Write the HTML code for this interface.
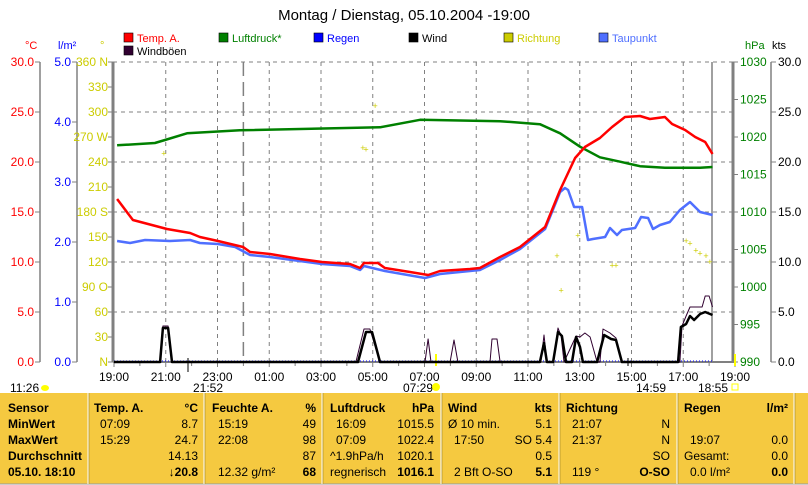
<!DOCTYPE html>
<html><head><meta charset="utf-8"><style>
body{margin:0;background:#fff;}
svg{display:block;font-family:"Liberation Sans",sans-serif;}
</style></head><body>
<svg id="c" width="808" height="485" viewBox="0 0 808 485">
<text x="404" y="20" font-size="15" text-anchor="middle">Montag / Dienstag, 05.10.2004 -19:00</text>
<g id="legend" font-size="11"></g>
<g id="axes"></g>
<g id="grid"></g>
<g id="marks"></g>
<g id="table"></g>
</svg>
<script>
// ---- data (hours since 19:00) ----
const tempT=[0.12,0.73,2.05,2.94,3.32,4.02,4.99,5.26,6.03,7.19,8.04,9.12,9.51,9.66,10.2,10.47,11.44,12.14,12.6,13.76,14.14,14.92,15.69,16.66,17.24,17.82,18.2,18.78,19.25,19.75,20.33,20.71,21.29,21.57,22.07,22.46,22.85,23.13];
const tempV=[16.3,14.2,13.3,12.9,12.5,12.1,11.5,11.0,10.8,10.3,10.0,9.8,9.4,9.9,9.9,9.4,9.0,8.7,9.1,9.3,9.4,10.5,11.5,13.5,17.2,20.4,21.5,22.4,23.5,24.5,24.6,24.3,24.5,23.8,23.2,22.5,22.0,20.8];
const dewT=[0.12,0.62,1.2,2.16,2.94,3.32,4.02,4.68,5.26,6.03,8.04,9.12,9.51,9.66,10.47,12.02,12.6,14.14,14.92,15.69,16.66,17.24,17.43,17.55,17.78,18.09,18.32,18.51,18.98,19.17,19.44,19.63,20.14,20.37,20.64,20.83,21.1,21.48,21.87,22.26,22.65,23.13];
const dewV=[12.1,11.9,12.2,12.1,12.2,11.9,11.8,11.5,10.7,10.5,9.8,9.6,9.2,9.6,9.1,8.4,8.8,9.2,10.2,11.3,13.3,17.0,17.4,17.2,15.5,15.5,12.2,12.3,12.5,13.4,12.7,13.2,13.4,14.5,14.4,13.3,13.7,14.0,15.2,16.0,15.0,14.7];
const presT=[0.12,1.58,1.97,2.82,4.87,10.28,11.83,14.92,16.46,17.24,18.01,18.78,19.56,20.33,21.29,22.65,23.13];
const presV=[1018.9,1019.2,1019.6,1020.5,1020.9,1021.3,1022.3,1022.1,1021.7,1020.5,1018.7,1017.3,1016.7,1016.1,1015.9,1015.9,1016.0];
const windT=[0,1.78,1.89,2.09,2.24,9.43,9.74,9.97,10.28,16.46,16.62,16.73,16.97,17.16,17.31,17.47,17.70,17.86,18.01,18.12,18.67,18.94,19.21,19.40,19.63,21.80,21.91,22.11,22.26,22.42,22.65,22.85,23.13];
const windV=[0,0,3.4,3.4,0,0,3.0,3.0,0,0,1.9,0,0,3.0,2.6,0,0,2.5,1.5,0,0,2.7,2.3,2.2,0,0,3.5,3.8,4.6,4.2,4.8,5.0,4.7];
const gustT=[0,1.78,1.89,2.09,2.24,9.35,9.66,9.89,10.28,12.02,12.14,12.25,12.99,13.14,13.29,14.53,14.61,14.80,14.92,16.50,16.62,16.73,16.97,17.16,17.28,17.39,17.86,18.01,18.20,18.40,18.67,18.78,18.90,19.17,19.40,19.63,21.87,21.95,22.11,22.26,22.73,22.85,23.0,23.13];
const gustV=[0,0,3.6,3.6,0,0,3.3,3.3,0,0,2.3,0,0,2.2,0,0,2.3,2.3,0,0,2.7,0,0,3.4,2.6,0,2.6,2.5,2.9,2.5,0,0,3.3,2.9,2.4,0,0,3.6,4.6,5.5,5.5,6.6,6.6,5.5];
const dirT=[1.93,9.62,9.74,10.09,17.12,17.28,17.93,19.25,19.4,22.11,22.26,22.49,22.65,22.88,23.03];
const dirV=[250,257,255,307,127,86,152,116,116,145,142,134,130,127,120];
const xLabels=["19:00","21:00","23:00","01:00","03:00","05:00","07:00","09:00","11:00","13:00","15:00","17:00","19:00"];
const tempTicks=[0,5,10,15,20,25,30];
const rainTicks=[0,1,2,3,4,5];
const dirTicks=["N","30","60","90 O","120","150","180 S","210","240","270 W","300","330","360 N"];
const presTicks=[990,995,1000,1005,1010,1015,1020,1025,1030];

// ---- scales ----
const X0=114,PX=25.875,Y0=362,H=300;
const xs=t=>X0+t*PX;
const yT=v=>Y0-v*H/30;
const yR=v=>Y0-v*H/5;
const yD=v=>Y0-v*H/360;
const yP=v=>Y0-(v-990)*H/40;
const NS='http://www.w3.org/2000/svg';
function mk(tag,attrs,parent,txt){const e=document.createElementNS(NS,tag);for(const k in attrs)e.setAttribute(k,attrs[k]);if(txt!==undefined)e.textContent=txt;parent.appendChild(e);return e;}
const ax=document.getElementById('axes'),gr=document.getElementById('grid'),mg=document.getElementById('marks'),lg=document.getElementById('legend'),tb=document.getElementById('table');

// grid
tempTicks.forEach(v=>{if(v>0){const l=mk('line',{x1:113,x2:733,y1:yT(v),y2:yT(v),stroke:'#808080','stroke-dasharray':'4,4'},gr);

}});
for(let h=2;h<24;h+=2){const l=mk('line',{x1:xs(h),x2:xs(h),y1:62,y2:362,stroke:'#808080','stroke-dasharray':'4,4'},gr);

}
const mid=mk('line',{x1:xs(5),x2:xs(5),y1:62,y2:362,stroke:'#808080','stroke-dasharray':'14,6','stroke-width':1.5},gr);


const endl=mk('line',{x1:712,x2:712,y1:62,y2:362,stroke:'#808080','stroke-width':1.5},gr);



// axes lines
[[40,'#808080'],[77,'#808080'],[113,'#808080'],[733,'#808080'],[771,'#808080']].forEach(([x,c],i)=>{const l=mk('line',{x1:x,x2:x,y1:62,y2:362,stroke:c,'stroke-width':(i==2||i==3)?3:1.5},ax);

});
const bx=mk('line',{x1:113,x2:735,y1:362,y2:362,stroke:'#808080','stroke-width':2},ax);


tempTicks.forEach(v=>{mk('line',{x1:35,x2:40,y1:yT(v),y2:yT(v),stroke:'#808080'},ax);
const t=mk('text',{x:34,y:yT(v)+4,'font-size':12,fill:'#f00','text-anchor':'end'},ax,v.toFixed(1));


mk('line',{x1:771,x2:776,y1:yT(v),y2:yT(v),stroke:'#808080'},ax);
const k=mk('text',{x:778,y:yT(v)+4,'font-size':12,fill:'#000'},ax,v.toFixed(1));

});
rainTicks.forEach(v=>{mk('line',{x1:72,x2:77,y1:yR(v),y2:yR(v),stroke:'#808080'},ax);
const t=mk('text',{x:71,y:yR(v)+4,'font-size':12,fill:'#00f','text-anchor':'end'},ax,v.toFixed(1));

});
dirTicks.forEach((s,i)=>{const v=i*30;mk('line',{x1:108,x2:113,y1:yD(v),y2:yD(v),stroke:'#808080'},ax);
const t=mk('text',{x:108,y:yD(v)+4,'font-size':12,fill:'#cccc00','text-anchor':'end'},ax,s);

});
presTicks.forEach(v=>{mk('line',{x1:733,x2:738,y1:yP(v),y2:yP(v),stroke:'#808080'},ax);
const t=mk('text',{x:740,y:yP(v)+4,'font-size':12,fill:'#008000'},ax,String(v));

});
xLabels.forEach((s,i)=>{const x=xs(i*2);mk('line',{x1:x,x2:x,y1:362,y2:367,stroke:'#808080'},ax);
const t=mk('text',{x:x,y:381,'font-size':12,'text-anchor':'middle'},ax,s);

});
for(let h=1;h<24;h+=2){mk('line',{x1:xs(h),x2:xs(h),y1:362,y2:366,stroke:'#808080'},ax);}
[['°C',25,'#f00'],['l/m²',58,'#00f'],['°',100,'#cccc00'],['hPa',745,'#008000'],['kts',772,'#000']].forEach(([s,x,c])=>{const t=mk('text',{x:x,y:49,'font-size':11,fill:c},ax,s);

});

// legend
[['Temp. A.','#f00',124,42],['Luftdruck*','#008000',219,42],['Regen','#00f',314,42],['Wind','#000',409,42],['Richtung','#cccc00',504,42],['Taupunkt','#4f6fff',599,42],['Windböen','#300030',124,55]].forEach(([s,c,x,y])=>{
const g=mk('g',{},lg);


mk('rect',{x:x,y:y-9,width:9,height:9,fill:c,stroke:'#000','stroke-width':0.6},g);
mk('text',{x:x+13,y:y,'font-size':11,fill:c==='#300030'?'#000':c},g,s);});

// series
function line(T,V,ys,c,w,name){const pts=T.map((t,i)=>xs(t).toFixed(1)+','+ys(V[i]).toFixed(1)).join(' ');
const p=mk('polyline',{points:pts,fill:'none',stroke:c,'stroke-width':w,'stroke-linejoin':'round'},mg);

}
const rain=mk('line',{x1:xs(0),x2:712,y1:361,y2:361,stroke:'#00f','stroke-dasharray':'1,2'},mg);


line(presT,presV,yP,'#008000',2.5,'pressure-line');
line(gustT,gustV,yT,'#300030',1,'gust-line');
line(windT,windV,yT,'#000',2.5,'wind-line');
line(dewT,dewV,yT,'#4f6fff',2.5,'dewpoint-line');
line(tempT,tempV,yT,'#f00',2.5,'temperature-line');
dirT.forEach((t,i)=>{const d=mk('text',{x:xs(t),y:yD(dirV[i])+3,'font-size':9,fill:'#cccc00','text-anchor':'middle'},mg,'+');

});

// sun/moon markers
[['11:26',10,'start'],['21:52',193,'start'],['07:29',403,'start'],['14:59',636,'start'],['18:55',698,'start']].forEach(([s,x,a])=>{const t=mk('text',{x:x,y:392,'font-size':12,'text-anchor':a},ax,s);

});
mk('ellipse',{cx:45,cy:388,rx:4,ry:3,fill:'#ff0'},ax);
mk('circle',{cx:436,cy:387,r:4,fill:'#ff0'},ax);
mk('rect',{x:732,y:384,width:6,height:6,fill:'none',stroke:'#ff0'},ax);
mk('line',{x1:436,x2:436,y1:354,y2:366,stroke:'#ff0','stroke-width':2},ax);
mk('line',{x1:735,x2:735,y1:354,y2:366,stroke:'#ff0','stroke-width':2},ax);
mk('line',{x1:188,x2:188,y1:358,y2:372,stroke:'#808080','stroke-width':2},ax);
mk('line',{x1:628,x2:628,y1:358,y2:366,stroke:'#808080','stroke-width':2},ax);

// table
const tbg=mk('rect',{x:0,y:393,width:808,height:91,fill:'#f5c940'},tb);


mk('line',{x1:0,x2:808,y1:484,y2:484,stroke:'#999'},tb);
[88,204,322,441,559,677,794].forEach(x=>{mk('line',{x1:x,x2:x,y1:393,y2:484,stroke:'#fff','stroke-width':1},tb);mk('line',{x1:x+1,x2:x+1,y1:393,y2:484,stroke:'#c0a030','stroke-width':1},tb);});
const rowsY=[412,428,444,460,476];
const cols=[
 {l:8,r:null,cells:[['Sensor',1],['MinWert',1],['MaxWert',1],['Durchschnitt',1],['05.10. 18:10',1]]},
];
function tx(x,y,s,b,anchor,name){const t=mk('text',{x:x,y:y,'font-size':12,'font-weight':b?'bold':'normal','text-anchor':anchor},tb,s);

}
['Sensor','MinWert','MaxWert','Durchschnitt','05.10. 18:10'].forEach((s,i)=>tx(8,rowsY[i],s,true,'start','row-header'));
const tcols=[
 [94,198,[['Temp. A.','°C',1],['  07:09','8.7'],['  15:29','24.7'],['','14.13'],['','↓20.8',1]]],
 [212,316,[['Feuchte A.','%',1],['  15:19','49'],['  22:08','98'],['','87'],['  12.32 g/m²','68',1]]],
 [330,434,[['Luftdruck','hPa',1],['  16:09','1015.5'],['  07:09','1022.4'],['^1.9hPa/h','1020.1'],['regnerisch','1016.1',1]]],
 [448,552,[['Wind','kts',1],['Ø 10 min.','5.1'],['   17:50','SO 5.4'],['','0.5'],['   2 Bft O-SO','5.1',1]]],
 [566,670,[['Richtung','',1],['  21:07','N'],['  21:37','N'],['','SO'],['  119 °','O-SO',1]]],
 [684,788,[['Regen','l/m²',1],['',''],['   19:07','0.0'],['Gesamt:','0.0'],['  0.0 l/m²','0.0',1]]]
];
tcols.forEach(([l,r,rows])=>rows.forEach(([a,b,bold],i)=>{
 if(a){const t=mk('text',{x:l+(a.startsWith(' ')?6:0),y:rowsY[i],'font-size':12,'font-weight':(i==0)?'bold':'normal'},tb,a.trim());
 
 }
 if(b){const t=mk('text',{x:r,y:rowsY[i],'font-size':12,'font-weight':bold?'bold':'normal','text-anchor':'end'},tb,b);
 
 }
}));
</script>
</body></html>
